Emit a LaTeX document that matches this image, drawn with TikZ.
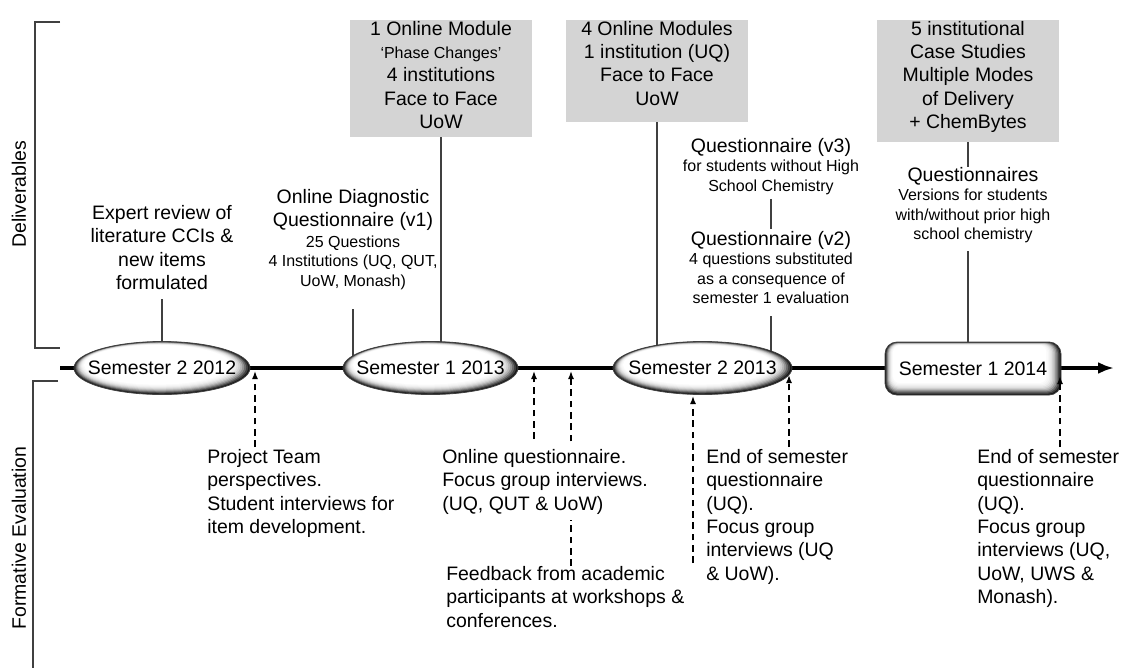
\documentclass[tikz,border=0pt]{standalone}
\usepackage{fontspec}
\setmainfont{Liberation Sans}
\usetikzlibrary{arrows.meta,shapes.geometric,backgrounds}

\definecolor{boxgray}{RGB}{212,212,212}
\definecolor{linegray}{RGB}{64,64,64}

\newcommand\mainf{\fontsize{14.6pt}{17.55pt}\selectfont}
\newcommand\smallf{\fontsize{12pt}{14.6pt}\selectfont}

% nested ellipses: white centre, shadowed rim darkest at the lower right
\newcommand\semellipse[2]{%
  \foreach \kk/\cc in {0/90,1/75,2/58,3/42,4/29,5/19,6/12,7/7,8/4,9/2,10/0}{%
    \fill[black!\cc] ([xshift=-\kk*0.35pt, yshift=\kk*0.24pt]path picture bounding box.center)
      ellipse [x radius=#1-\kk*1.1pt, y radius=#2-\kk*0.5pt];}}
% the same rim for a rounded rectangle
\newcommand\semrectlayers{%
  \foreach \kk/\cc in {0/90,1/75,2/58,3/42,4/29,5/19,6/12,7/7,8/4,9/2,10/0}{%
    \pgfmathsetlengthmacro\rr{9pt-\kk*0.4pt}%
    \fill[black!\cc, rounded corners=\rr]
      ([xshift=\kk*0.6pt, yshift=-\kk*0.25pt]path picture bounding box.north west) rectangle
      ([xshift=-\kk*1.1pt, yshift=\kk*0.9pt]path picture bounding box.south east);}}

\begin{document}
\begin{tikzpicture}[x=0.75pt,y=-0.75pt,
  sem/.style={ellipse, draw=black!75, line width=0.6pt, inner sep=0pt,
    minimum width=#1, minimum height=39.75pt, font=\mainf,
    path picture={\semellipse{#1/2}{19.875pt}}},
  semrect/.style={rectangle, rounded corners=9pt, draw=black!75, line width=0.6pt,
    inner sep=0pt, minimum height=39.75pt, minimum width=132pt, font=\mainf,
    path picture={\semrectlayers}},
  graybox/.style={rectangle, fill=boxgray, draw=none, minimum width=136.5pt, inner sep=0pt},
  boxtext/.style={anchor=north, align=center, inner sep=0pt, font=\mainf},
  ctext/.style={anchor=north, align=center, inner sep=0pt, font=\mainf},
  mixtext/.style={anchor=north, align=center, inner sep=0pt, font=\smallf},
  ltext/.style={anchor=north west, align=left, inner sep=0pt, font=\mainf},
  conn/.style={draw=linegray, line width=1.1pt},
  timeline/.style={draw=black, line width=2.4pt, -{Latex[length=12pt,width=9pt]}},
  evalarrow/.style={draw=black, line width=1.1pt, dash pattern=on 5pt off 3.5pt,
    -{Latex[length=6pt,width=4.5pt]}},
  bracket/.style={draw=linegray, line width=1.5pt},
]
\useasboundingbox (0,0) rectangle (1122,668);

% side brackets and their labels
\draw[bracket] (60,22) -- (35,22) -- (35,348) -- (60,348);
\draw[bracket] (58,381) -- (33,381) -- (33,670);
\node[rotate=90, font=\mainf] (deliv) at (19,194) {Deliverables};
\node[rotate=90, font=\mainf] (formev) at (19,538) {Formative Evaluation};

% semesters on the time line
\node[sem=132pt] (s1) at (162,368) {\makebox[0pt]{Semester 2 2012}};
\node[sem=131.25pt] (s2) at (430.5,368) {\makebox[0pt]{Semester 1 2013}};
\node[sem=134.25pt] (s3) at (702.5,368) {\makebox[0pt]{Semester 2 2013}};
\node[semrect] (s4) at (973,368.5) {\makebox[0pt]{Semester 1 2014}};

\coordinate (tlstart) at (60,368);
\coordinate (tlend) at (1114,368);

% deliverables
\node[ctext] (exp) at (162,205) {Expert review of\\literature CCIs \&\\new items\\formulated};
\node[mixtext] (diag) at (353,189) {{\mainf Online Diagnostic}\\[2.9pt]{\mainf Questionnaire (v1)}\\[1pt]25 Questions\\4 Institutions (UQ, QUT,\\UoW, Monash)};

\node[graybox, minimum height=87.75pt] (d1box) at (441,78.5) {};
\node[boxtext, yshift=-0.75pt] (d1) at (d1box.north) {1 Online Module\\{\smallf ‘Phase Changes’}\\4 institutions\\Face to Face\\UoW};

\node[graybox, minimum height=76.5pt] (d2box) at (657,71) {};
\node[boxtext, yshift=-0.75pt] (d2) at (d2box.north) {4 Online Modules\\1 institution (UQ)\\Face to Face\\UoW};

\node[mixtext] (v3) at (771,138) {{\mainf Questionnaire (v3)}\\for students without High\\School Chemistry};
\node[mixtext] (v2) at (771,231) {{\mainf Questionnaire (v2)}\\4 questions substituted\\as a consequence of\\semester 1 evaluation};

\node[graybox, minimum height=91.5pt] (d3box) at (968,81) {};
\node[boxtext, yshift=-0.75pt] (d3) at (d3box.north) {5 institutional\\Case Studies\\Multiple Modes\\of Delivery\\+ ChemBytes};
\node[mixtext] (qs) at (973,167) {{\mainf Questionnaires}\\Versions for students\\with/without prior high\\school chemistry};

% time line and deliverable links, behind the semester shapes
\begin{scope}[on background layer]
  \draw[timeline] (tlstart) -- (tlend);
  \draw[conn, shorten <=6.75pt] (exp.south) -- (s1.north);
  \draw[conn, shorten <=14.25pt] (diag.south) -- (diag.south |- s2.center);
  \draw[conn] (d1box.south) -- (d1box.south |- s2.center);
  \draw[conn] (d2box.south) -- (d2box.south |- s3.center);
  \draw[conn, shorten <=3pt, shorten >=1.5pt] (v3.south) -- (v2.north);
  \draw[conn, shorten <=9pt] (v2.south) -- (v2.south |- s3.center);
  \draw[conn] (d3box.south) -- (d3box.south |- qs.north);
  \draw[conn, shorten <=6pt] (qs.south -| d3box.south) -- (d3box.south |- s4.center);
\end{scope}

% formative evaluation
\node[ltext] (pt) at (207,449) {Project Team\\perspectives.\\Student interviews for\\item development.};
\coordinate (a1) at (255,371);
\draw[evalarrow, shorten <=1.5pt] (pt.north -| a1) -- (a1);

\node[ltext] (fb) at (446,566) {Feedback from academic\\participants at workshops \&\\conferences.};
\coordinate (a3) at (571,371);
\draw[evalarrow] (fb.north -| a3) -- (a3);

\node[ltext, fill=white, inner ysep=4.5pt] (oq) at (442,443) {Online questionnaire.\\Focus group interviews.\\(UQ, QUT \& UoW)};
\coordinate (a2) at (534,371);
\draw[evalarrow, shorten <=3pt] (oq.north -| a2) -- (a2);

\coordinate (b0) at (693,563);
\coordinate (b1) at (693,396);
\draw[evalarrow] (b0) -- (b1);

\node[ltext] (eos1) at (706,449) {End of semester\\questionnaire\\(UQ).\\Focus group\\interviews (UQ\\\& UoW).};
\coordinate (a4) at (789,375);
\draw[evalarrow, shorten <=1.5pt] (eos1.north -| a4) -- (a4);

\node[ltext] (eos2) at (977,449) {End of semester\\questionnaire\\(UQ).\\Focus group\\interviews (UQ,\\UoW, UWS \&\\Monash).};
\coordinate (a5) at (1060,376);
\draw[evalarrow, shorten <=1.5pt] (eos2.north -| a5) -- (a5);
\end{tikzpicture}
\end{document}
